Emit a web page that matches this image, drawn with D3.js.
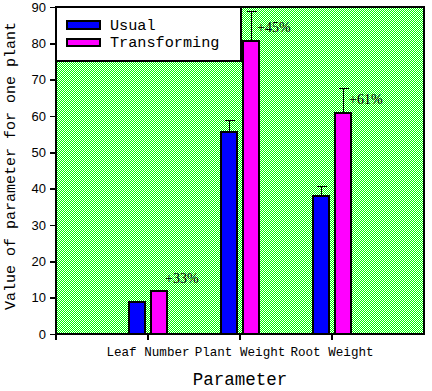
<!DOCTYPE html>
<meta charset="utf-8">
<head>
<style>
  body { margin: 0; background: #fff; }
  text { fill: #000; }
</style>
</head>

<!-- Load d3.js -->
<script src="https://d3js.org/d3.v7.min.js"></script>

<body>
  <div id="my_dataviz"></div>
</body>

<script>

  // data
  var categories = ["Leaf Number", "Plant Weight", "Root Weight"];
  var series = ["Usual", "Transforming"];
  var usualValues = [9, 56, 38.3];
  var transformingValues = [12, 81, 61];
  var usualErrors = [0, 3, 2.3];
  var transformingErrors = [0, 8, 6.6];
  var gainLabels = ["+33%", "+45%", "+61%"];
  var gainLabelAt = [14, 83.2, 63.3];
  var yTicks = [0, 10, 20, 30, 40, 50, 60, 70, 80, 90];

  var colors = { "Usual": "#0000ff", "Transforming": "#ff00ff" };

  // plot box (note: "top" is taken by window.top, so use other names)
  var width = 432, height = 391;
  var plotLeft = 56, plotRight = 424, plotTop = 7, plotBottom = 334;

  var svg = d3.select("#my_dataviz")
    .append("svg")
      .attr("width", width)
      .attr("height", height)
      .attr("shape-rendering", "crispEdges");

  // checkered green/white background, 1px cells, painted on a canvas
  var cw = plotRight - plotLeft, ch = plotBottom - plotTop;
  var canvas = document.createElement("canvas");
  canvas.width = cw;
  canvas.height = ch;
  var ctx = canvas.getContext("2d");
  var img = ctx.createImageData(cw, ch);
  for (var j = 0; j < ch; j++) {
    for (var i = 0; i < cw; i++) {
      var k = (j * cw + i) * 4;
      var green = ((i + j) % 2) === 0;
      img.data[k] = green ? 0 : 255;
      img.data[k + 1] = 255;
      img.data[k + 2] = green ? 0 : 255;
      img.data[k + 3] = 255;
    }
  }
  ctx.putImageData(img, 0, 0);

  // scales
  var x = d3.scalePoint()
    .domain(categories)
    .range([plotLeft, plotRight])
    .padding(1);

  var x1 = d3.scaleBand()
    .domain(series)
    .range([-20, 20])
    .paddingInner(0.2);

  var y = d3.scaleLinear()
    .domain([0, 90])
    .range([plotBottom, plotTop]);

  svg.append("image")
    .attr("x", plotLeft)
    .attr("y", plotTop)
    .attr("width", cw)
    .attr("height", ch)
    .attr("preserveAspectRatio", "none")
    .style("image-rendering", "pixelated")
    .attr("href", canvas.toDataURL("image/png"));

  // Y axis
  var yAxis = svg.append("g")
    .attr("transform", "translate(" + plotLeft + ",0)")
    .call(d3.axisLeft(y).tickValues(yTicks).tickSize(6).tickPadding(4).tickSizeOuter(0));
  yAxis.select(".domain").remove();
  yAxis.selectAll("line").attr("stroke-width", 1.5);
  yAxis.selectAll("text")
    .style("font-family", "'Liberation Sans', Arial, sans-serif")
    .style("font-size", "13px");

  // X axis ticks (left end + one per category)
  var xTickPos = [plotLeft].concat(categories.map(function(c) { return x(c); }));
  svg.append("g")
    .selectAll("line")
    .data(xTickPos)
    .enter()
    .append("line")
      .attr("x1", function(d) { return d; })
      .attr("x2", function(d) { return d; })
      .attr("y1", plotBottom)
      .attr("y2", plotBottom + 6)
      .attr("stroke", "#000")
      .attr("stroke-width", 1.5);

  svg.append("g")
    .selectAll("text")
    .data(categories)
    .enter()
    .append("text")
      .attr("x", function(d) { return x(d); })
      .attr("y", 356)
      .attr("text-anchor", "middle")
      .style("font-family", "'Liberation Mono', 'Courier New', monospace")
      .style("font-size", "12.6px")
      .text(function(d) { return d; });

  // bars
  var rows = [];
  categories.forEach(function(c, i) {
    rows.push({ cat: c, s: "Usual", v: usualValues[i], e: usualErrors[i] });
    rows.push({ cat: c, s: "Transforming", v: transformingValues[i], e: transformingErrors[i] });
  });

  svg.append("g")
    .selectAll("rect")
    .data(rows)
    .enter()
    .append("rect")
      .attr("x", function(d) { return x(d.cat) + x1(d.s) + 1; })
      .attr("y", function(d) { return y(d.v) + 1; })
      .attr("width", x1.bandwidth() - 2)
      .attr("height", function(d) { return plotBottom - y(d.v) - 1; })
      .attr("fill", function(d) { return colors[d.s]; })
      .attr("stroke", "#000")
      .attr("stroke-width", 2);

  // error bars (upper only)
  function barMid(d) { return Math.round(x(d.cat) + x1(d.s) + x1.bandwidth() / 2); }
  var errs = svg.append("g")
    .selectAll("g")
    .data(rows.filter(function(d) { return d.e > 0; }))
    .enter()
    .append("g")
      .attr("stroke", "#000")
      .attr("stroke-width", 1);
  errs.append("line")
    .attr("x1", function(d) { return barMid(d) + 0.5; })
    .attr("x2", function(d) { return barMid(d) + 0.5; })
    .attr("y1", function(d) { return y(d.v); })
    .attr("y2", function(d) { return Math.round(y(d.v + d.e)) + 0.5; });
  errs.append("line")
    .attr("x1", function(d) { return barMid(d) - 4.5; })
    .attr("x2", function(d) { return barMid(d) + 5.5; })
    .attr("y1", function(d) { return Math.round(y(d.v + d.e)) + 0.5; })
    .attr("y2", function(d) { return Math.round(y(d.v + d.e)) + 0.5; });

  // percent gain labels
  svg.append("g")
    .selectAll("text")
    .data(categories)
    .enter()
    .append("text")
      .attr("x", function(d) { return x(d) + x1("Transforming") + x1.bandwidth() / 2 + 6; })
      .attr("y", function(d, i) { return y(gainLabelAt[i]); })
      .style("font-family", "'Liberation Serif', 'Times New Roman', serif")
      .style("font-size", "14px")
      .text(function(d, i) { return gainLabels[i]; });

  // plot frame
  svg.append("rect")
    .attr("x", plotLeft)
    .attr("y", plotTop)
    .attr("width", plotRight - plotLeft)
    .attr("height", plotBottom - plotTop)
    .attr("fill", "none")
    .attr("stroke", "#000")
    .attr("stroke-width", 2);

  // legend
  var legend = svg.append("g");
  legend.append("rect")
    .attr("x", plotLeft)
    .attr("y", plotTop)
    .attr("width", 241 - plotLeft)
    .attr("height", 61 - plotTop)
    .attr("fill", "#fff")
    .attr("stroke", "#000")
    .attr("stroke-width", 1.5);

  var items = legend.selectAll(".item")
    .data(series)
    .enter()
    .append("g")
      .attr("transform", function(d, i) { return "translate(0," + (i * 17.5) + ")"; });
  items.append("rect")
    .attr("x", 67)
    .attr("y", 21)
    .attr("width", 33)
    .attr("height", 7.5)
    .attr("fill", function(d) { return colors[d]; })
    .attr("stroke", "#000")
    .attr("stroke-width", 2);
  items.append("text")
    .attr("x", 110)
    .attr("y", 29.5)
    .style("font-family", "'Liberation Mono', 'Courier New', monospace")
    .style("font-size", "15.2px")
    .text(function(d) { return d; });

  // axis titles
  svg.append("text")
    .attr("x", (plotLeft + plotRight) / 2)
    .attr("y", 385)
    .attr("text-anchor", "middle")
    .style("font-family", "'Liberation Mono', 'Courier New', monospace")
    .style("font-size", "17.5px")
    .text("Parameter");

  svg.append("text")
    .attr("transform", "translate(15,166) rotate(-90)")
    .attr("text-anchor", "middle")
    .style("font-family", "'Liberation Mono', 'Courier New', monospace")
    .style("font-size", "15px")
    .text("Value of parameter for one plant");

</script>
